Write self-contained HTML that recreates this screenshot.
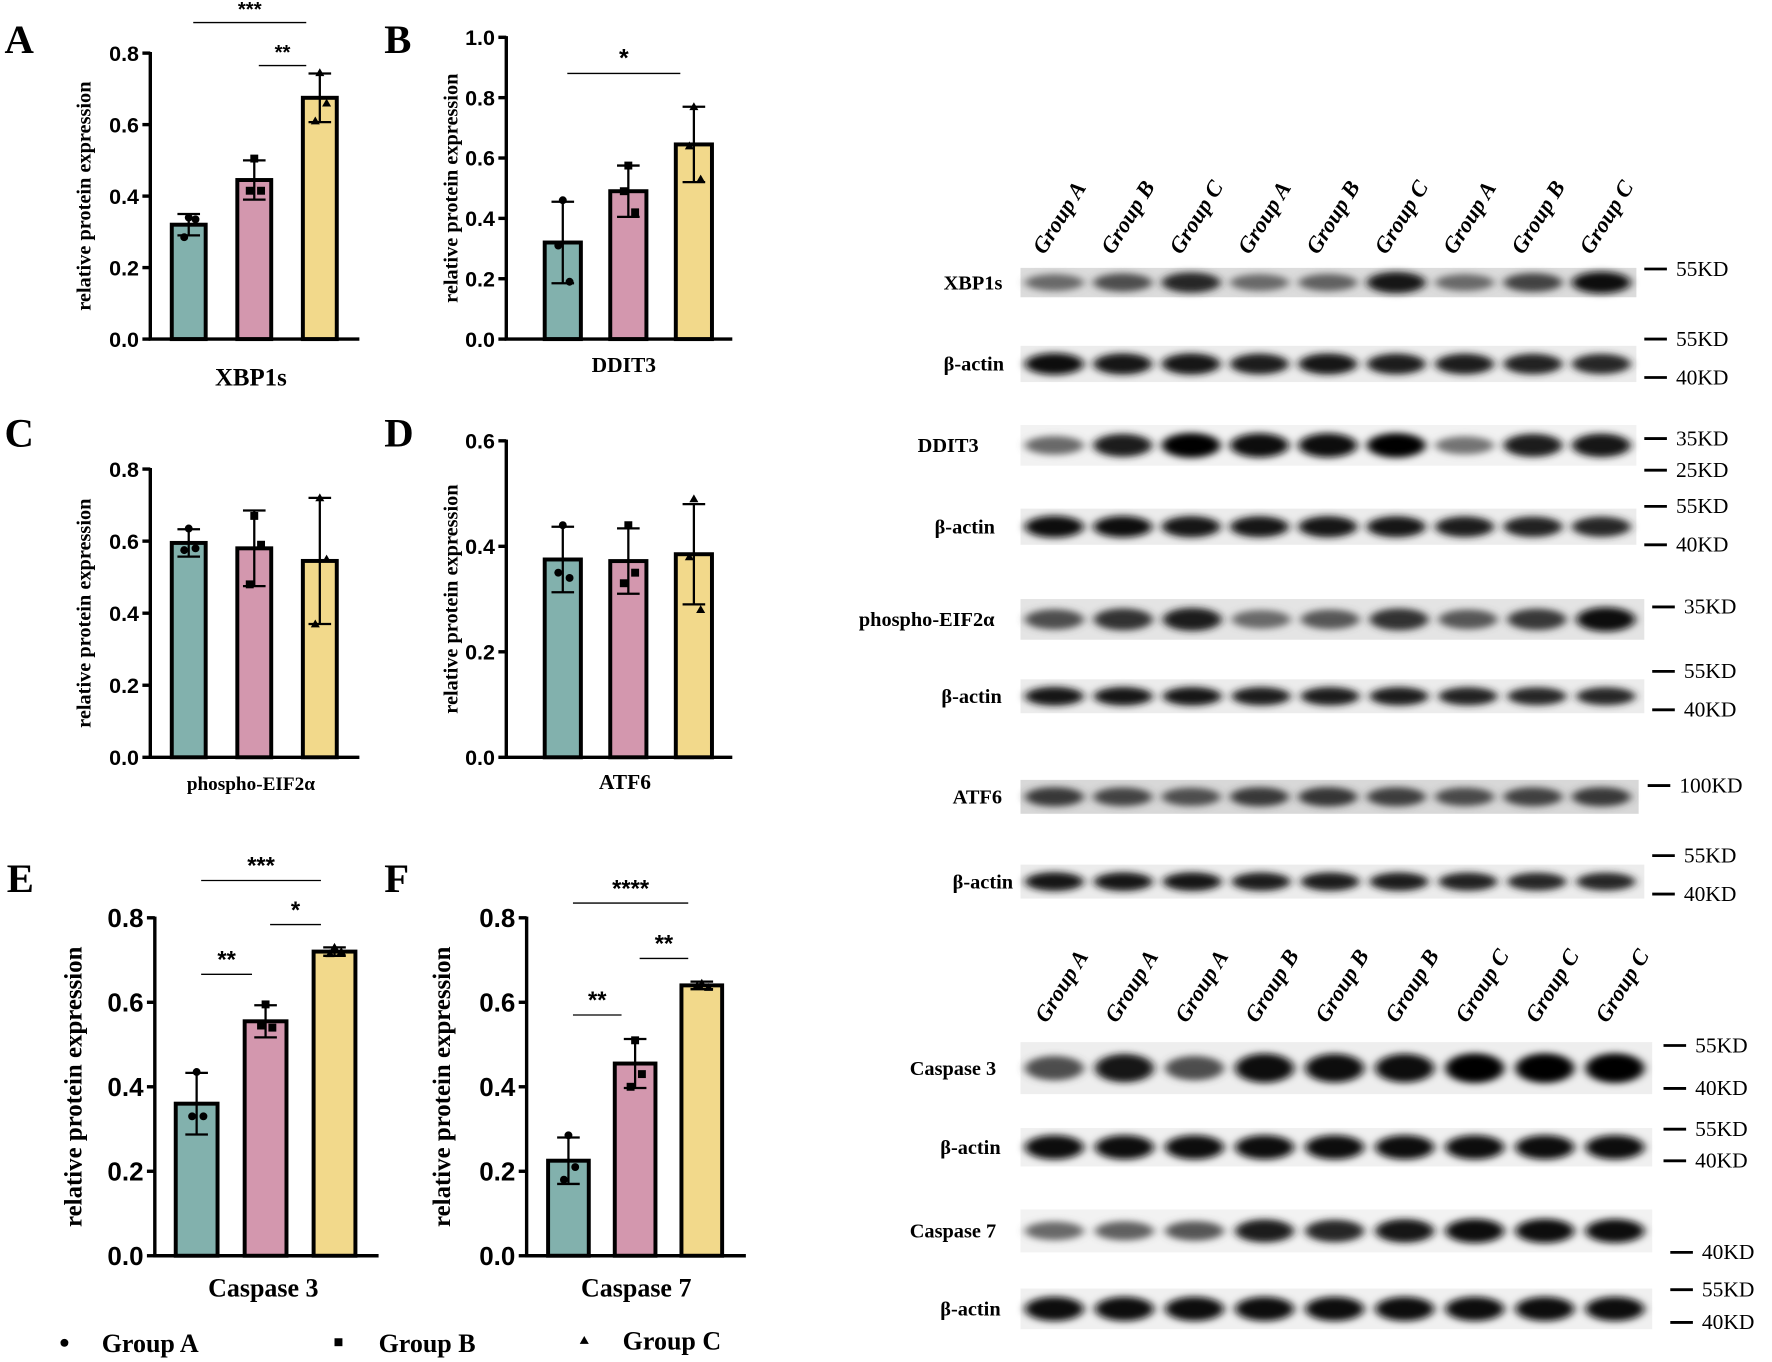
<!DOCTYPE html>
<html><head><meta charset="utf-8"><style>
html,body{margin:0;padding:0;background:#fff;}
svg{display:block;}
.tk{font-family:"Liberation Sans",sans-serif;font-weight:bold;}
.sr{font-family:"Liberation Serif",serif;font-weight:bold;}
</style></head><body>
<svg id="fig" width="1772" height="1362" viewBox="0 0 1568 1205" preserveAspectRatio="none" xmlns="http://www.w3.org/2000/svg">
<defs>
<filter id="blur" x="-50%" y="-100%" width="200%" height="300%"><feGaussianBlur stdDeviation="4 3"/></filter>
</defs>
<g id="charts"></g>
<g id="blots"></g>
<g id="legend">
<circle cx="57" cy="1188" r="3.5" fill="#000"/>
<text class="sr" x="90" y="1196" font-size="23">Group A</text>
<rect x="296" y="1184" width="7" height="7" fill="#000"/>
<text class="sr" x="335" y="1196" font-size="23">Group B</text>
<polygon points="517,1182 521,1189 513,1189" fill="#000"/>
<text class="sr" x="551" y="1194" font-size="23">Group C</text>
</g>
</svg>
<script>
const NS="http://www.w3.org/2000/svg";
// ---- chart data ----
const categories=["Group A","Group B","Group C"];
const xbp1sMeans=[0.32,0.445,0.675];
const xbp1sSD=[0.03,0.055,0.068];
const xbp1sPoints=[[0.34,0.335,0.285],[0.505,0.415,0.415],[0.745,0.66,0.61]];
const ddit3Means=[0.32,0.49,0.645];
const ddit3SD=[0.135,0.085,0.125];
const ddit3Points=[[0.46,0.19,0.31],[0.575,0.42,0.49],[0.77,0.53,0.64]];
const eif2Means=[0.595,0.58,0.545];
const eif2SD=[0.038,0.105,0.175];
const eif2Points=[[0.635,0.58,0.575],[0.67,0.59,0.48],[0.72,0.55,0.37]];
const atf6Means=[0.375,0.372,0.385];
const atf6SD=[0.062,0.062,0.095];
const atf6Points=[[0.44,0.34,0.35],[0.44,0.35,0.33],[0.49,0.28,0.38]];
const cas3Means=[0.36,0.555,0.72];
const cas3SD=[0.073,0.038,0.01];
const cas3Points=[[0.435,0.33,0.33],[0.595,0.54,0.545],[0.73,0.72,0.715]];
const cas7Means=[0.225,0.455,0.64];
const cas7SD=[0.055,0.058,0.009];
const cas7Points=[[0.285,0.21,0.18],[0.51,0.43,0.40],[0.645,0.635,0.64]];
const ticks08=[0,0.2,0.4,0.6,0.8];
const ticks10=[0,0.2,0.4,0.6,0.8,1.0];
const ticks06=[0,0.2,0.4,0.6];
const sigA=[[0,2,"***"],[1,2,"**"]];
const sigB=[[0,2,"*"]];
const sigE=[[0,2,"***"],[1,2,"*"],[0,1,"**"]];
const sigF=[[0,2,"****"],[1,2,"**"],[0,1,"**"]];

const colors=["#82b1ad","#d397ae","#f2d98b"];
const charts=document.getElementById('charts');
function el(tag,attrs,parent,txt){const e=document.createElementNS(NS,tag);for(const k in attrs)e.setAttribute(k,attrs[k]);if(txt!==undefined)e.textContent=txt;(parent||charts).appendChild(e);return e;}

function panel(p){
  const g=el('g',{});
  
  
  const y=v=>p.y0-(v/p.ymax)*(p.y0-p.ytop);
  const t=el('text',{x:p.lx,y:p.ly,'font-size':36,class:'sr'},g,p.letter);
  
  
  p.ticks.forEach(v=>{
    const tl=el('line',{x1:p.ax-7,x2:p.ax,y1:y(v),y2:y(v),stroke:'#000','stroke-width':3},g);
    
    
    const tt=el('text',{x:p.ax-10,y:y(v)+p.fs*0.36,'font-size':p.fs,'text-anchor':'end',class:'tk'},g,v.toFixed(1));
    
    
  });
  p.means.forEach((m,i)=>{
    const cx=p.x0+i*p.step;
    const b=el('rect',{x:cx-p.bw/2,y:y(m),width:p.bw,height:p.y0-y(m),fill:colors[i],stroke:'#000','stroke-width':3.5},g);
    
    
    const hi=y(m+p.sd[i]),lo=y(m-p.sd[i]);
    const e=el('path',{d:`M${cx},${hi}V${lo}M${cx-10},${hi}H${cx+10}M${cx-10},${lo}H${cx+10}`,stroke:'#000','stroke-width':2,fill:'none'},g);
    
    
    const offs=[0,6,-4];
    p.points[i].forEach((v,j)=>{
      const px=cx+offs[j],py=y(v);let mk;
      if(i===0)mk=el('circle',{cx:px,cy:py,r:3.5,fill:'#000'},g);
      else if(i===1)mk=el('rect',{x:px-3.5,y:py-3.5,width:7,height:7,fill:'#000'},g);
      else mk=el('polygon',{points:`${px},${py-4} ${px+4},${py+3} ${px-4},${py+3}`,fill:'#000'},g);
      
      
    });
  });
  const ax=el('path',{d:`M${p.ax},${p.ytop-1}V${p.y0}H${p.axEnd}`,stroke:'#000','stroke-width':3,fill:'none'},g);
  
  
  p.sig.forEach((s,k)=>{
    const x1=p.x0+s[0]*p.step+4,x2=p.x0+s[1]*p.step-12,yy=p.sigY[k];
    const l=el('line',{x1:x1,x2:x2,y1:yy,y2:yy,stroke:'#000','stroke-width':1.2},g);
    
    
    const st=el('text',{x:(x1+x2)/2,y:yy-6,'font-size':p.sfs,'text-anchor':'middle',class:'tk'},g,s[2]);
    
    
  });
  const yl=el('text',{transform:`translate(${p.ylx},${(p.y0+p.ytop)/2}) rotate(-90)`,'font-size':p.yfs,'text-anchor':'middle',class:'sr'},g,'relative protein expression');
  
  
  const xl=el('text',{x:p.xlx,y:p.xly,'font-size':p.xfs,'text-anchor':'middle',class:'sr'},g,p.name);
  
  
}
panel({id:'a',letter:'A',lx:4,ly:47,ax:133,axEnd:318,y0:300,ytop:47,ymax:0.8,ticks:ticks08,x0:167,step:58,bw:30,means:xbp1sMeans,sd:xbp1sSD,points:xbp1sPoints,sig:sigA,sigY:[20,58],sfs:18,fs:19,ylx:80,yfs:18,name:'XBP1s',xlx:222,xly:341,xfs:22});
panel({id:'b',letter:'B',lx:340,ly:47,ax:448,axEnd:648,y0:300,ytop:33,ymax:1.0,ticks:ticks10,x0:498,step:58,bw:32,means:ddit3Means,sd:ddit3SD,points:ddit3Points,sig:sigB,sigY:[65],sfs:22,fs:19,ylx:405,yfs:18,name:'DDIT3',xlx:552,xly:329,xfs:19});
panel({id:'c',letter:'C',lx:4,ly:395,ax:133,axEnd:318,y0:670,ytop:415,ymax:0.8,ticks:ticks08,x0:167,step:58,bw:30,means:eif2Means,sd:eif2SD,points:eif2Points,sig:[],sigY:[],sfs:18,fs:19,ylx:80,yfs:18,name:'phospho-EIF2α',xlx:222,xly:699,xfs:17});
panel({id:'d',letter:'D',lx:340,ly:395,ax:448,axEnd:648,y0:670,ytop:390,ymax:0.6,ticks:ticks06,x0:498,step:58,bw:32,means:atf6Means,sd:atf6SD,points:atf6Points,sig:[],sigY:[],sfs:18,fs:19,ylx:405,yfs:18,name:'ATF6',xlx:553,xly:698,xfs:19});
panel({id:'e',letter:'E',lx:6,ly:789,ax:137,axEnd:335,y0:1111,ytop:812,ymax:0.8,ticks:ticks08,x0:174,step:61,bw:37,means:cas3Means,sd:cas3SD,points:cas3Points,sig:sigE,sigY:[779,818,862],sfs:21,fs:23,ylx:72,yfs:22,name:'Caspase 3',xlx:233,xly:1147,xfs:23});
panel({id:'f',letter:'F',lx:340,ly:789,ax:466,axEnd:660,y0:1111,ytop:812,ymax:0.8,ticks:ticks08,x0:503,step:59,bw:36,means:cas7Means,sd:cas7SD,points:cas7Points,sig:sigF,sigY:[799,848,898],sfs:21,fs:23,ylx:398,yfs:22,name:'Caspase 7',xlx:563,xly:1147,xfs:23});

// ---- blots ----
const blots=document.getElementById('blots');
function B(tag,attrs,txt){return el(tag,attrs,blots,txt);}
const topLanes=["Group A","Group B","Group C","Group A","Group B","Group C","Group A","Group B","Group C"];
const botLanes=["Group A","Group A","Group A","Group B","Group B","Group B","Group C","Group C","Group C"];
function laneLabels(list,x0,step,yb){
  list.forEach((s,i)=>{
    const t=B('text',{transform:`translate(${x0+i*step},${yb}) rotate(-58)`,'font-size':20,'font-style':'italic',class:'sr'},s);
    
    
  });
}
laneLabels(topLanes,924,60.5,226);
laneLabels(botLanes,926,62,906);
const rows=[
 {n:'XBP1s',lx:835,y1:237,y2:263,x2:1448,bg:'#dcdcdc',d:[0.45,0.6,0.8,0.45,0.5,0.9,0.45,0.65,0.95],h:9,step:60.5,x0:933},
 {n:'β-actin',lx:835,y1:306,y2:338,x2:1448,bg:'#ececec',d:[0.95,0.9,0.9,0.85,0.88,0.85,0.85,0.82,0.8],h:9,step:60.5,x0:933},
 {n:'DDIT3',lx:812,y1:376,y2:412,x2:1448,bg:'#f2f2f2',d:[0.45,0.85,1,0.95,0.95,0.98,0.4,0.85,0.9],h:10,step:60.5,x0:933},
 {n:'β-actin',lx:827,y1:450,y2:482,x2:1448,bg:'#ececec',d:[0.95,0.92,0.9,0.88,0.9,0.88,0.85,0.82,0.8],h:9,step:60.5,x0:933},
 {n:'phospho-EIF2α',lx:760,y1:530,y2:566,x2:1455,bg:'#e4e4e4',d:[0.6,0.75,0.85,0.45,0.55,0.75,0.55,0.7,0.95],h:10,step:61,x0:933},
 {n:'β-actin',lx:833,y1:601,y2:631,x2:1455,bg:'#ececec',d:[0.9,0.88,0.88,0.85,0.85,0.85,0.82,0.8,0.8],h:8,step:61,x0:933},
 {n:'ATF6',lx:843,y1:690,y2:720,x2:1450,bg:'#d8d8d8',d:[0.7,0.65,0.6,0.7,0.72,0.68,0.62,0.66,0.7],h:9,step:60.5,x0:933},
 {n:'β-actin',lx:843,y1:765,y2:795,x2:1455,bg:'#ececec',d:[0.9,0.88,0.88,0.85,0.85,0.85,0.82,0.8,0.8],h:8,step:61,x0:933},
 {n:'Caspase 3',lx:805,y1:922,y2:968,x2:1462,bg:'#eeeeee',d:[0.6,0.9,0.6,0.95,0.92,0.92,1,1,1],h:12,step:62,x0:933},
 {n:'β-actin',lx:832,y1:998,y2:1032,x2:1462,bg:'#f0f0f0',d:[0.95,0.95,0.95,0.95,0.95,0.95,0.95,0.95,0.95],h:10,step:62,x0:933},
 {n:'Caspase 7',lx:805,y1:1070,y2:1108,x2:1462,bg:'#f2f2f2',d:[0.45,0.5,0.55,0.85,0.8,0.9,0.95,0.95,0.92],h:10,step:62,x0:933},
 {n:'β-actin',lx:832,y1:1140,y2:1176,x2:1462,bg:'#f0f0f0',d:[0.95,0.95,0.95,0.95,0.95,0.95,0.95,0.95,0.95],h:10,step:62,x0:933}
];
rows.forEach(r=>{
  const bg=B('rect',{x:903,y:r.y1,width:r.x2-903,height:r.y2-r.y1,fill:r.bg});
  
  
  const cy=(r.y1+r.y2)/2;
  r.d.forEach((v,i)=>{
    const c=Math.round(255*(1-v)*0.75);
    const e=B('ellipse',{cx:r.x0+i*r.step,cy:cy,rx:26,ry:r.h*(0.6+0.5*v),fill:`rgb(${c},${c},${c})`,filter:'url(#blur)'});
    
    
  });
  const t=B('text',{x:r.lx,y:cy+6,'font-size':18,class:'sr'},r.n);
  
  
});
const markers=[[1455,238,'55KD'],[1455,300,'55KD'],[1455,334,'40KD'],[1455,388,'35KD'],[1455,416,'25KD'],[1455,448,'55KD'],[1455,482,'40KD'],[1462,537,'35KD'],[1462,594,'55KD'],[1462,628,'40KD'],[1458,695,'100KD'],[1462,757,'55KD'],[1462,791,'40KD'],[1472,925,'55KD'],[1472,963,'40KD'],[1472,999,'55KD'],[1472,1027,'40KD'],[1478,1108,'40KD'],[1478,1141,'55KD'],[1478,1170,'40KD']];
markers.forEach(m=>{
  const l=B('line',{x1:m[0],x2:m[0]+20,y1:m[1],y2:m[1],stroke:'#000','stroke-width':2.5});
  
  
  const t=B('text',{x:m[0]+28,y:m[1]+6,'font-size':19,class:'sr',style:'font-weight:normal'},m[2]);
  
  
});
</script>
</body></html>
